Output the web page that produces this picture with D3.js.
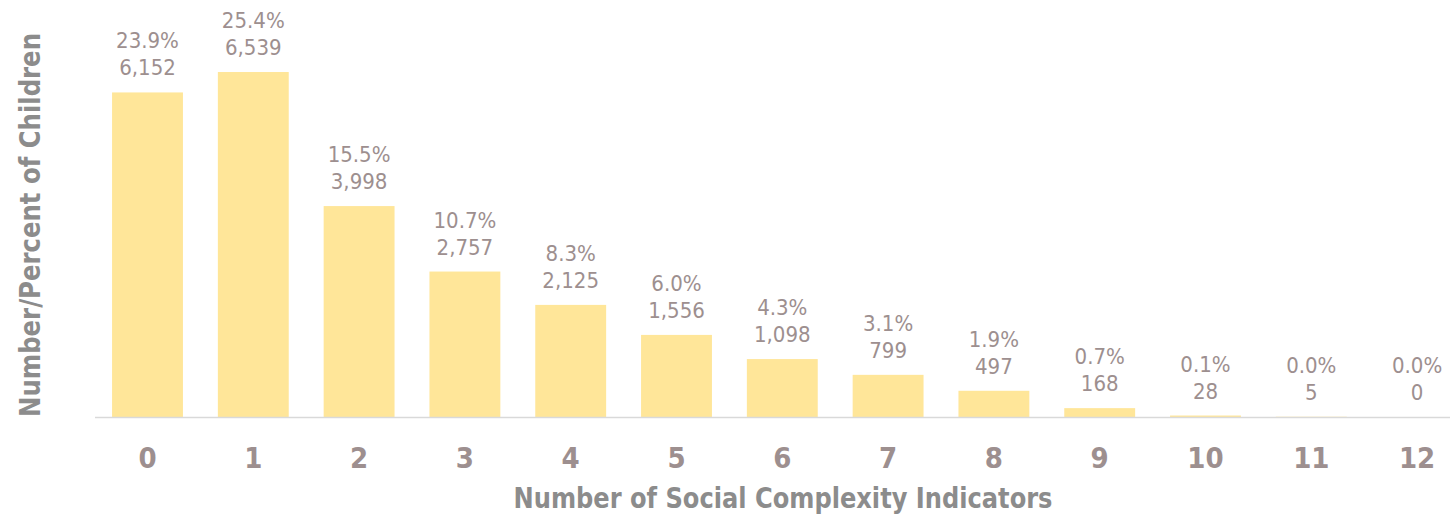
<!DOCTYPE html>
<html>
<head>
<meta charset="utf-8">
<script src="https://cdn.jsdelivr.net/npm/d3@7"></script>
<style>
  body { margin: 0; background: #fff; }
  text { font-family: "DejaVu Sans Condensed", "Liberation Sans Narrow", sans-serif; }
</style>
</head>
<body>
<svg width="1450" height="518"></svg>
<script>
var svg = d3.select("svg"),
    width = +svg.attr("width"),
    height = +svg.attr("height");

// data
var categories = ["0", "1", "2", "3", "4", "5", "6", "7", "8", "9", "10", "11", "12"];
var counts = [6152, 6539, 3998, 2757, 2125, 1556, 1098, 799, 497, 168, 28, 5, 0];
var percents = [23.9, 25.4, 15.5, 10.7, 8.3, 6.0, 4.3, 3.1, 1.9, 0.7, 0.1, 0.0, 0.0];

var baseY = 417;

var x = d3.scaleBand()
    .domain(categories)
    .range([94.6, 1470])
    .paddingInner(0.33)
    .paddingOuter(0.165);

var y = d3.scaleLinear()
    .domain([0, 7000])
    .range([baseY, baseY - 369.3]);

var fmt = d3.format(",");
var labelColor = "#9d8f8f";

// bars
svg.append("g")
  .selectAll("rect")
  .data(counts)
  .enter().append("rect")
    .attr("x", function(d, i) { return x(categories[i]); })
    .attr("width", x.bandwidth())
    .attr("y", function(d) { return y(d); })
    .attr("height", function(d) { return baseY - y(d); })
    .attr("fill", "#ffe699");

// baseline
svg.append("line")
    .attr("x1", 95).attr("x2", width)
    .attr("y1", baseY + 0.5).attr("y2", baseY + 0.5)
    .attr("stroke", "#d9d9d9")
    .attr("stroke-width", 1.5);

// value labels (two lines)
var lab = svg.append("g")
    .attr("fill", labelColor)
    .attr("font-size", 22)
    .attr("text-anchor", "middle")
  .selectAll("g")
  .data(counts)
  .enter().append("g");

lab.append("text")
    .attr("x", function(d, i) { return x(categories[i]) + x.bandwidth() / 2; })
    .attr("y", function(d) { return y(d) - 44; })
    .text(function(d, i) { return percents[i].toFixed(1) + "%"; });

lab.append("text")
    .attr("x", function(d, i) { return x(categories[i]) + x.bandwidth() / 2; })
    .attr("y", function(d) { return y(d) - 17; })
    .text(function(d) { return fmt(d); });

// x axis tick labels
var xAxis = d3.axisBottom(x).tickSize(0).tickPadding(0);
var gx = svg.append("g")
    .attr("transform", "translate(0," + (baseY + 51) + ")")
    .call(xAxis);
gx.select(".domain").remove();
gx.selectAll("text")
    .attr("dy", 0)
    .attr("fill", labelColor)
    .attr("font-size", 29)
    .attr("font-weight", "bold")
    .style("font-family", "\"DejaVu Sans Condensed\", sans-serif");

// axis titles
svg.append("text")
    .attr("x", 783)
    .attr("y", 508)
    .attr("text-anchor", "middle")
    .attr("font-size", 28)
    .attr("font-weight", "bold")
    .attr("fill", "#8c8c8c")
    .attr("textLength", 539)
    .attr("lengthAdjust", "spacingAndGlyphs")
    .text("Number of Social Complexity Indicators");

svg.append("text")
    .attr("transform", "translate(40,225) rotate(-90)")
    .attr("text-anchor", "middle")
    .attr("font-size", 28)
    .attr("font-weight", "bold")
    .attr("fill", "#8c8c8c")
    .attr("textLength", 384)
    .attr("lengthAdjust", "spacingAndGlyphs")
    .text("Number/Percent of Children");
</script>
</body>
</html>
